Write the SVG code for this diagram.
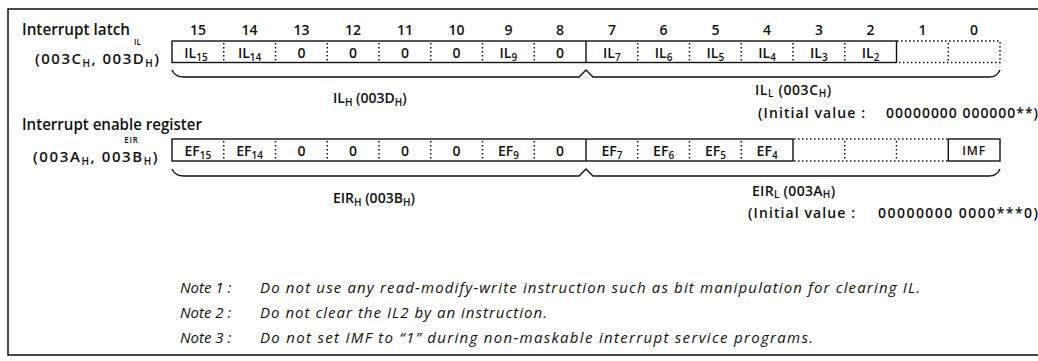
<svg xmlns="http://www.w3.org/2000/svg" width="1038" height="361" viewBox="0 0 1038 361">
<style>
.t{font-family:"Open Sans","Liberation Sans",sans-serif;fill:#111;font-weight:600}
.lbl{font-size:16px}
.reg{font-size:15px}
.num{font-size:14px;text-anchor:middle}
.cell{font-size:14px;text-anchor:middle}
.sub{font-size:10px}
.sm{font-size:14px}
.tiny{font-size:8px;text-anchor:middle}
.note{font-size:15px;font-style:italic;font-weight:500}
.solid{fill:none;stroke:#111;stroke-width:1.4}
.dot{fill:none;stroke:#111;stroke-width:1.5;stroke-dasharray:1.5 2.5}
.frame{fill:none;stroke:#111;stroke-width:1.5}
</style>
<rect width="1038" height="361" fill="#fff"/>
<path class="frame" d="M1040,9 H8 V355 H1040"/>

<g id="il-register">
  <text class="t lbl" x="22" y="34.5" textLength="108" lengthAdjust="spacingAndGlyphs">Interrupt latch</text>
  <text class="t tiny" x="137.5" y="45" font-weight="bold">IL</text>
  <text class="t reg" x="35" y="63.5" letter-spacing="1.5">(003C<tspan class="sub" dy="3">H</tspan><tspan dy="-3">, 003D</tspan><tspan class="sub" dy="3">H</tspan><tspan dy="-3">)</tspan></text>
  <g class="t num">
    <text x="197.9" y="35">15</text><text x="249.6" y="35">14</text><text x="301.4" y="35">13</text><text x="353.1" y="35">12</text>
    <text x="404.9" y="35">11</text><text x="456.6" y="35">10</text><text x="508.4" y="35">9</text><text x="560.1" y="35">8</text>
    <text x="611.9" y="35">7</text><text x="663.6" y="35">6</text><text x="715.4" y="35">5</text><text x="767.1" y="35">4</text>
    <text x="818.9" y="35">3</text><text x="870.6" y="35">2</text><text x="922.4" y="35">1</text><text x="974.1" y="35">0</text>
  </g>
  <rect class="solid" x="172" y="41" width="724.5" height="21.5"/>
  <path class="solid" d="M586,41 V62.5"/>
  <path class="dot" d="M223.75,43 V61 M275.5,43 V61 M327.25,43 V61 M379,43 V61 M430.75,43 V61 M482.5,43 V61 M534.25,43 V61 M637.75,43 V61 M689.5,43 V61 M741.25,43 V61 M793,43 V61 M844.75,43 V61"/>
  <path class="dot" d="M897,41 H1000 V62.5 H897 M948.25,43 V61"/>
  <g class="t cell">
    <text x="196" y="58">IL<tspan class="sub" dy="3">15</tspan></text>
    <text x="249.6" y="58">IL<tspan class="sub" dy="3">14</tspan></text>
    <text x="301.4" y="58">0</text><text x="353.1" y="58">0</text><text x="404.9" y="58">0</text><text x="456.6" y="58">0</text>
    <text x="508.4" y="58">IL<tspan class="sub" dy="3">9</tspan></text>
    <text x="560.1" y="58">0</text>
    <text x="611.9" y="58">IL<tspan class="sub" dy="3">7</tspan></text>
    <text x="663.6" y="58">IL<tspan class="sub" dy="3">6</tspan></text>
    <text x="715.4" y="58">IL<tspan class="sub" dy="3">5</tspan></text>
    <text x="767.1" y="58">IL<tspan class="sub" dy="3">4</tspan></text>
    <text x="818.9" y="58">IL<tspan class="sub" dy="3">3</tspan></text>
    <text x="870.6" y="58">IL<tspan class="sub" dy="3">2</tspan></text>
  </g>
  <text class="t sm" x="333" y="103">IL<tspan class="sub" dy="3">H</tspan><tspan dy="-3"> (003D</tspan><tspan class="sub" dy="3">H</tspan><tspan dy="-3">)</tspan></text>
  <text class="t sm" x="755" y="95" letter-spacing="0.6">IL<tspan class="sub" dy="2">L</tspan><tspan dy="-2"> (003C</tspan><tspan class="sub" dy="2">H</tspan><tspan dy="-2">)</tspan></text>
  <text class="t sm" x="758" y="118" textLength="107" lengthAdjust="spacing">(Initial value :</text>
  <text class="t sm" x="886" y="118" textLength="152" lengthAdjust="spacing">00000000 000000**)</text>
</g>

<g id="eir-register">
  <text class="t lbl" x="22" y="129.5" textLength="180" lengthAdjust="spacingAndGlyphs">Interrupt enable register</text>
  <text class="t tiny" x="131.5" y="143" letter-spacing="0.8">EIR</text>
  <text class="t reg" x="33" y="161.5" letter-spacing="1.6">(003A<tspan class="sub" dy="3">H</tspan><tspan dy="-3">, 003B</tspan><tspan class="sub" dy="3">H</tspan><tspan dy="-3">)</tspan></text>
  <rect class="solid" x="172" y="139" width="621" height="22"/>
  <path class="solid" d="M586,139 V161"/>
  <path class="dot" d="M223.75,141 V159 M275.5,141 V159 M327.25,141 V159 M379,141 V159 M430.75,141 V159 M482.5,141 V159 M534.25,141 V159 M637.75,141 V159 M689.5,141 V159 M741.25,141 V159"/>
  <path class="dot" d="M794,139 H948 M794,161 H948 M844.75,141 V159 M896.5,141 V159"/>
  <rect class="solid" x="948.25" y="139" width="51.75" height="22"/>
  <g class="t cell">
    <text x="197.9" y="156">EF<tspan class="sub" dy="3">15</tspan></text>
    <text x="249.6" y="156">EF<tspan class="sub" dy="3">14</tspan></text>
    <text x="301.4" y="156">0</text><text x="353.1" y="156">0</text><text x="404.9" y="156">0</text><text x="456.6" y="156">0</text>
    <text x="508.4" y="156">EF<tspan class="sub" dy="3">9</tspan></text>
    <text x="560.1" y="156">0</text>
    <text x="611.9" y="156">EF<tspan class="sub" dy="3">7</tspan></text>
    <text x="663.6" y="156">EF<tspan class="sub" dy="3">6</tspan></text>
    <text x="715.4" y="156">EF<tspan class="sub" dy="3">5</tspan></text>
    <text x="767.1" y="156">EF<tspan class="sub" dy="3">4</tspan></text>
    <text x="974.1" y="155" font-size="12" letter-spacing="0.8">IMF</text>
  </g>
  <text class="t sm" x="333" y="203">EIR<tspan class="sub" dy="3">H</tspan><tspan dy="-3"> (003B</tspan><tspan class="sub" dy="3">H</tspan><tspan dy="-3">)</tspan></text>
  <text class="t sm" x="752" y="196" letter-spacing="0.3">EIR<tspan class="sub" dy="2">L</tspan><tspan dy="-2"> (003A</tspan><tspan class="sub" dy="2">H</tspan><tspan dy="-2">)</tspan></text>
  <text class="t sm" x="748" y="218" textLength="107" lengthAdjust="spacing">(Initial value :</text>
  <text class="t sm" x="878" y="218" textLength="160" lengthAdjust="spacing">00000000 0000***0)</text>
</g>

<g id="connectors">
  <path class="solid" d="M172,70 Q175,77 184,77 H579 L586,70 L593,77 H989 Q997,77 1000,70"/>
  <path class="solid" d="M172,169 Q175,176 184,176 H579 L586,169 L593,176 H989 Q997,176 1000,169"/>
</g>

<g id="notes">
  <text class="t note" x="180" y="293">Note 1 :</text>
  <text class="t note" x="260" y="293" textLength="660" lengthAdjust="spacing">Do not use any read-modify-write instruction such as bit manipulation for clearing IL.</text>
  <text class="t note" x="180" y="318">Note 2 :</text>
  <text class="t note" x="260" y="318" textLength="287" lengthAdjust="spacing">Do not clear the IL2 by an instruction.</text>
  <text class="t note" x="180" y="343">Note 3 :</text>
  <text class="t note" x="260" y="343" textLength="553" lengthAdjust="spacing">Do not set IMF to “1” during non-maskable interrupt service programs.</text>
</g>
</svg>
